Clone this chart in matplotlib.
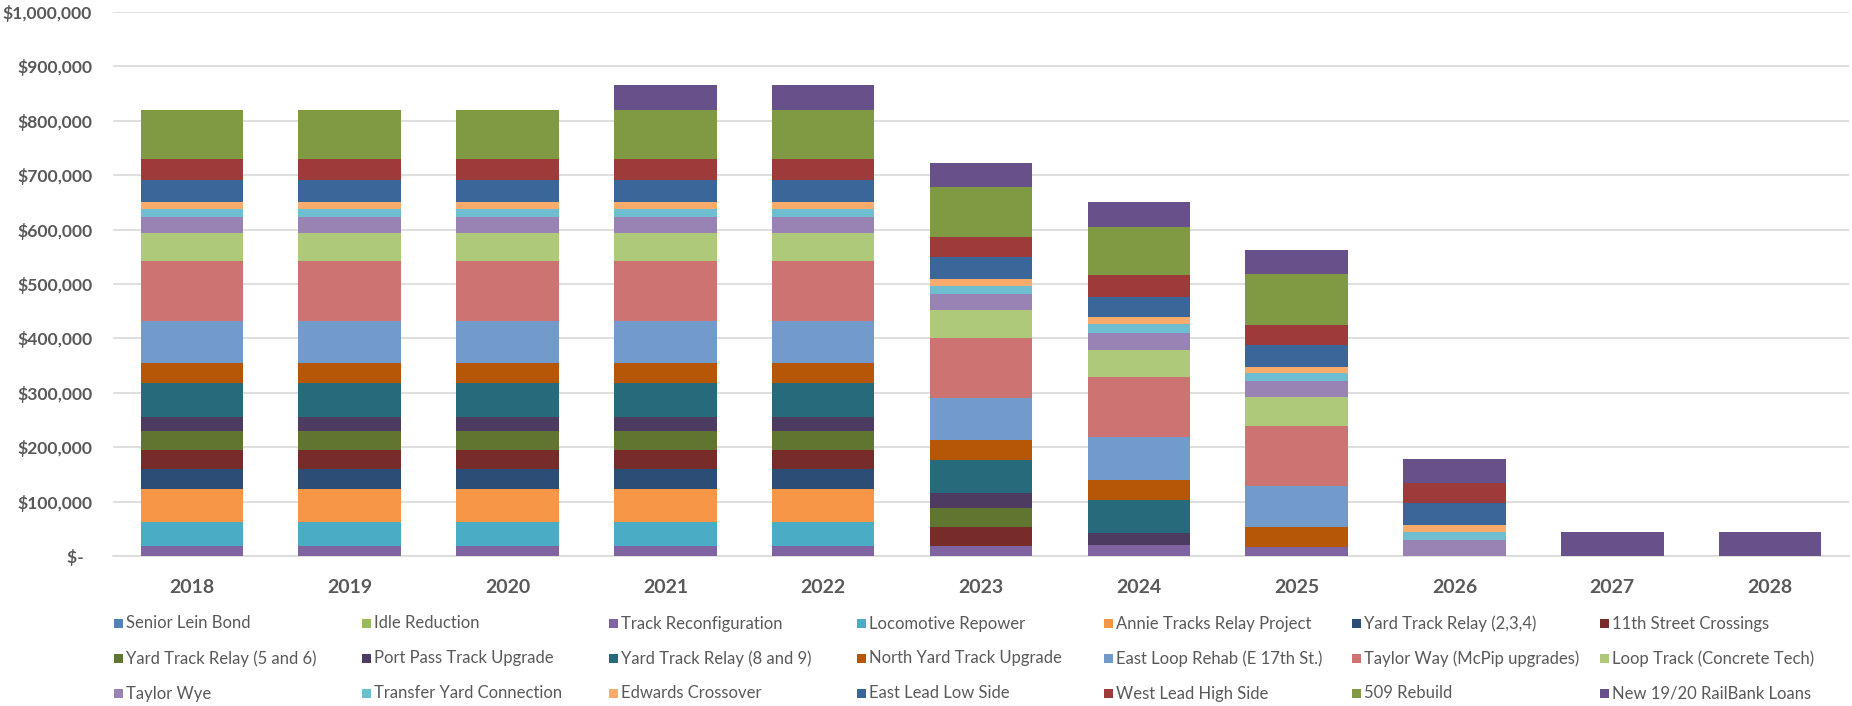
import matplotlib
matplotlib.use("Agg")
import matplotlib.pyplot as plt
from matplotlib.patches import Rectangle
import numpy as np

plt.rcParams['font.family'] = ['Lato', 'DejaVu Sans']

years = ["2018", "2019", "2020", "2021", "2022", "2023", "2024", "2025", "2026", "2027", "2028"]

senior_lein_bond        = [0, 0, 0, 0, 0, 0, 0, 0, 0, 0, 0]
idle_reduction          = [0, 0, 0, 0, 0, 0, 0, 0, 0, 0, 0]
track_reconfiguration   = [18000, 18000, 18000, 18000, 18000, 19000, 19500, 16000, 0, 0, 0]
locomotive_repower      = [45000, 45000, 45000, 45000, 45000, 0, 0, 0, 0, 0, 0]
annie_tracks            = [60000, 60000, 60000, 60000, 60000, 0, 0, 0, 0, 0, 0]
yard_track_234          = [37000, 37000, 37000, 37000, 37000, 0, 0, 0, 0, 0, 0]
eleventh_street         = [35000, 35000, 35000, 35000, 35000, 34500, 0, 0, 0, 0, 0]
yard_track_56           = [35000, 35000, 35000, 35000, 35000, 35000, 0, 0, 0, 0, 0]
port_pass               = [26000, 26000, 26000, 26000, 26000, 27000, 23000, 0, 0, 0, 0]
yard_track_89           = [62000, 62000, 62000, 62000, 62000, 61000, 61000, 0, 0, 0, 0]
north_yard              = [37000, 37000, 37000, 37000, 37000, 37000, 37000, 37000, 0, 0, 0]
east_loop_rehab         = [77000, 77000, 77000, 77000, 77000, 77500, 78000, 75500, 0, 0, 0]
taylor_way              = [110000, 110000, 110000, 110000, 110000, 110000, 110000, 110000, 0, 0, 0]
loop_track              = [52000, 52000, 52000, 52000, 52000, 51000, 51000, 53000, 0, 0, 0]
taylor_wye              = [30000, 30000, 30000, 30000, 30000, 30500, 30500, 30500, 30000, 0, 0]
transfer_yard           = [14500, 14500, 14500, 14500, 14500, 14000, 16500, 14000, 14500, 0, 0]
edwards_crossover       = [13000, 13000, 13000, 13000, 13000, 12500, 12000, 12000, 12500, 0, 0]
east_lead_low           = [40500, 40500, 40500, 40500, 40500, 41000, 38500, 40500, 41000, 0, 0]
west_lead_high          = [37000, 37000, 37000, 37000, 37000, 36500, 39000, 36500, 36000, 0, 0]
rebuild_509             = [91000, 91000, 91000, 91000, 91000, 91000, 89500, 92500, 0, 0, 0]
railbank_loans          = [0, 0, 0, 45000, 45000, 45000, 44500, 44500, 45000, 45000, 45000]

series_names = [
    "Senior Lein Bond", "Idle Reduction", "Track Reconfiguration", "Locomotive Repower",
    "Annie Tracks Relay Project", "Yard Track Relay (2,3,4)", "11th Street Crossings",
    "Yard Track Relay (5 and 6)", "Port Pass Track Upgrade", "Yard Track Relay (8 and 9)",
    "North Yard Track Upgrade", "East Loop Rehab (E 17th St.)", "Taylor Way (McPip upgrades)",
    "Loop Track (Concrete Tech)", "Taylor Wye", "Transfer Yard Connection", "Edwards Crossover",
    "East Lead Low Side", "West Lead High Side", "509 Rebuild", "New 19/20 RailBank Loans",
]
series_values = [
    senior_lein_bond, idle_reduction, track_reconfiguration, locomotive_repower,
    annie_tracks, yard_track_234, eleventh_street, yard_track_56, port_pass, yard_track_89,
    north_yard, east_loop_rehab, taylor_way, loop_track, taylor_wye, transfer_yard,
    edwards_crossover, east_lead_low, west_lead_high, rebuild_509, railbank_loans,
]
series_colors = [
    "#4F81BD", "#9BBB59", "#8064A2", "#4BACC6", "#F79646", "#2C4D75", "#772C2A",
    "#5F7530", "#4D3B62", "#276A7C", "#B65708", "#729ACA", "#CD7371", "#AFC97A",
    "#9983B5", "#6FBDD1", "#F9AB6B", "#3A6699", "#9C3B39", "#7F9A43", "#68508A",
]

y_ticks = [0, 100000, 200000, 300000, 400000, 500000, 600000, 700000, 800000, 900000, 1000000]
y_tick_labels = ["$-  ", "$100,000", "$200,000", "$300,000", "$400,000", "$500,000",
                 "$600,000", "$700,000", "$800,000", "$900,000", "$1,000,000"]

W, H = 1852, 706
fig = plt.figure(figsize=(W / 100, H / 100), dpi=100)
ax_left, ax_right = 113 / W, 1849 / W
ax_top, ax_bottom = 1 - 12 / H, 1 - 556 / H
ax = fig.add_axes([ax_left, ax_bottom, ax_right - ax_left, ax_top - ax_bottom])

x = np.arange(len(years))
bottom = np.zeros(len(years))
for name, vals, col in zip(series_names, series_values, series_colors):
    v = np.array(vals, dtype=float)
    ax.bar(x, v, width=0.65, bottom=bottom, color=col, label=name, linewidth=0, zorder=3)
    bottom += v

ax.set_xlim(-0.5, len(years) - 0.5)
ax.set_ylim(0, 1000000)
ax.set_yticks(y_ticks)
ax.set_yticklabels(y_tick_labels)
ax.set_xticks(x)
ax.set_xticklabels(years)
for s in ["top", "right", "left"]:
    ax.spines[s].set_visible(False)
ax.spines["bottom"].set_color("#D9D9D9")
ax.spines["bottom"].set_linewidth(1.2)
ax.grid(axis="y", color="#D9D9D9", linewidth=1.2, zorder=0)
ax.set_axisbelow(True)
ax.tick_params(axis="y", length=0, pad=15, labelsize=12.6, labelcolor="#595959")
ax.tick_params(axis="x", length=0, pad=16.5, labelsize=14, labelcolor="#595959")
for lbl in ax.get_yticklabels() + ax.get_xticklabels():
    lbl.set_fontweight("bold")

# legend laid out in equal-width columns like the original
col_x0, col_step = 114, 247.6
row_y = [623.5, 658.5, 693.5]
sq = 9
for i, (name, col) in enumerate(zip(series_names, series_colors)):
    r, c = divmod(i, 7)
    px = col_x0 + col_step * c
    py = row_y[r]
    fig.add_artist(Rectangle((px / W, 1 - (py + sq / 2) / H), sq / W, sq / H,
                             transform=fig.transFigure, facecolor=col, edgecolor="none"))
    fig.text((px + sq + 3) / W, 1 - py / H, name, fontsize=12, color="#595959",
             ha="left", va="center")

fig.savefig("out.png", dpi=100, facecolor="white")
